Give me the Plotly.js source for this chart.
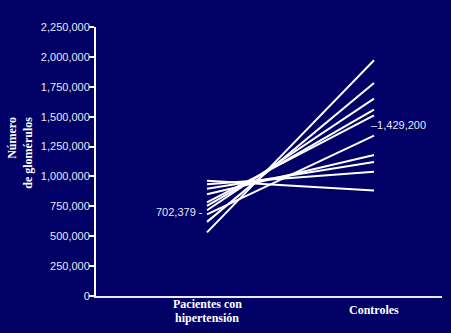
<!DOCTYPE html>
<html>
<head>
<meta charset="utf-8">
<script src="https://cdn.plot.ly/plotly-3.0.1.min.js"></script>
<style>html,body{margin:0;padding:0;background:#000066;}</style>
</head>
<body>
<div id="chart" style="width:451px;height:333px;"></div>
<script>
// Data
const groupLine1 = ["Pacientes con", "Controles"];
const groupLine2 = ["hipertensión", ""];
const hypertensionValues = [963000, 934000, 897000, 851000, 784000, 754000, 717000, 683000, 620000, 532000];
const controlValues      = [882000, 1039000, 1120000, 1179000, 1511000, 1559000, 1651000, 1341000, 1782000, 1972000];
const meanHypertension = 702379;
const meanControls = 1429200;
const yTickValues = [0, 250000, 500000, 750000, 1000000, 1250000, 1500000, 1750000, 2000000, 2250000];

const navy = "#000066";
const traces = hypertensionValues.map((v, i) => ({
  x: [0, 1],
  y: [v, controlValues[i]],
  mode: "lines",
  line: {color: "#ffffff", width: 2},
  hoverinfo: "skip",
  showlegend: false
}));

const serif = {family: "Liberation Serif, Times New Roman, serif", size: 12, color: "#ffffff", weight: "bold"};
const sans = {family: "Liberation Sans, Arial, sans-serif", size: 11, color: "#e8e8f4"};

const layout = {
  width: 451, height: 333,
  margin: {l: 96, r: 9, t: 27, b: 37},
  paper_bgcolor: navy, plot_bgcolor: navy,
  showlegend: false,
  xaxis: {
    range: [-0.6646, 1.407], showgrid: false, zeroline: false,
    showline: true, linecolor: "#e8e8f2", linewidth: 2,
    showticklabels: false, ticks: "", fixedrange: true
  },
  yaxis: {
    range: [0, 2250000], tickvals: yTickValues, tickformat: ",",
    showgrid: false, zeroline: false,
    showline: true, linecolor: "#ffffff", linewidth: 2,
    ticks: "outside", ticklen: 5, tickwidth: 2, tickcolor: "#ffffff",
    ticklabelstandoff: -3,
    tickfont: sans, fixedrange: true
  },
  annotations: [
    {x: 0, y: -0.028, xref: "x", yref: "paper", text: groupLine1[0], showarrow: false,
     xanchor: "center", yanchor: "middle", borderpad: 0, font: serif},
    {x: 0, y: -0.082, xref: "x", yref: "paper", text: groupLine2[0], showarrow: false,
     xanchor: "center", yanchor: "middle", borderpad: 0, font: serif},
    {x: 1, y: -0.052, xref: "x", yref: "paper", text: groupLine1[1], showarrow: false,
     xanchor: "center", yanchor: "middle", font: serif},
    {x: -0.2197, y: 0.5326, xref: "paper", yref: "paper", text: "Número<br>de glomérulos",
     textangle: -90, align: "right", showarrow: false, xanchor: "center", yanchor: "middle", font: serif},
    {x: 0, y: meanHypertension, xref: "x", yref: "y", text: meanHypertension.toLocaleString("en-US") + " -",
     showarrow: false, xanchor: "right", yanchor: "middle", xshift: -2, font: sans},
    {x: 1, y: meanControls, xref: "x", yref: "y", text: "–" + meanControls.toLocaleString("en-US"),
     showarrow: false, xanchor: "left", yanchor: "middle", xshift: -5, font: sans}
  ]
};

Plotly.newPlot("chart", traces, layout, {displayModeBar: false, staticPlot: true});
</script>
</body>
</html>
